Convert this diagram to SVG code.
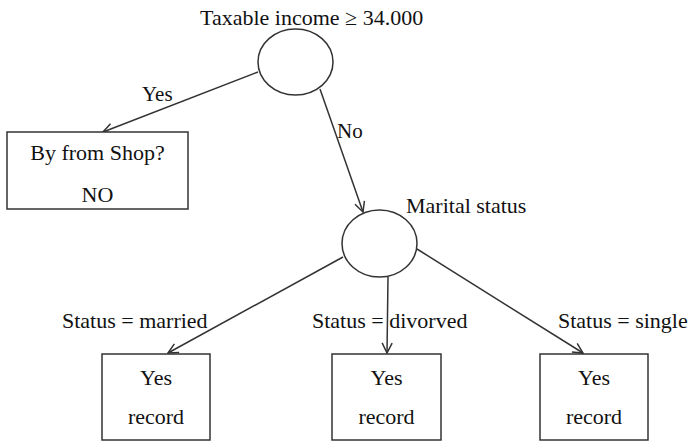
<svg xmlns="http://www.w3.org/2000/svg" width="688" height="442" viewBox="0 0 688 442" font-family="'Liberation Serif', 'DejaVu Serif', serif">
<style>
text{font-family:'Liberation Serif','DejaVu Serif',serif;font-size:22px;fill:#111}
.n{fill:#fff;stroke:#333;stroke-width:1.5}
.c line{stroke:#333;stroke-width:1.5;fill:none}
.m{text-anchor:middle}
</style>
<defs>
<marker id="a" viewBox="0 0 12 12" refX="11" refY="6" markerWidth="12" markerHeight="12" markerUnits="userSpaceOnUse" orient="auto">
<path d="M1,1 L11,6 L1,11" fill="none" stroke="#333" stroke-width="1.5"/>
</marker>
</defs>
<rect width="688" height="442" fill="#fff"/>
<g class="c" id="connectors">
<line x1="258" y1="72" x2="103" y2="132" marker-end="url(#a)"/>
<line x1="320" y1="89" x2="363" y2="212" marker-end="url(#a)"/>
<line x1="343" y1="257" x2="168" y2="353" marker-end="url(#a)"/>
<line x1="388" y1="277" x2="387" y2="353" marker-end="url(#a)"/>
<line x1="417" y1="249" x2="583" y2="353" marker-end="url(#a)"/>
<text x="142" y="101" style="font-size:21px">Yes</text>
<text x="337" y="138" style="font-size:21px">No</text>
<text x="62" y="328">Status = married</text>
<text x="312" y="328">Status = divorved</text>
<text x="558" y="328">Status = single</text>
</g>
<g id="root">
<ellipse class="n" cx="295.5" cy="62" rx="37.5" ry="33"/>
<text x="200" y="25">Taxable income ≥ 34.000</text>
</g>
<g id="shop">
<rect class="n" x="7" y="132" width="181" height="77"/>
<text class="m" x="97.5" y="160">By from Shop?</text>
<text class="m" x="97.5" y="202">NO</text>
</g>
<g id="marital">
<ellipse class="n" cx="379.5" cy="243.5" rx="37.5" ry="33.5"/>
<text x="406" y="213">Marital status</text>
</g>
<g id="married">
<rect class="n" x="102" y="354" width="108" height="86"/>
<text class="m" x="156" y="385">Yes</text>
<text class="m" x="156" y="424">record</text>
</g>
<g id="divorced">
<rect class="n" x="332" y="354" width="109" height="86"/>
<text class="m" x="386.5" y="385">Yes</text>
<text class="m" x="386.5" y="424">record</text>
</g>
<g id="single">
<rect class="n" x="540" y="354" width="108" height="86"/>
<text class="m" x="594" y="385">Yes</text>
<text class="m" x="594" y="424">record</text>
</g>
</svg>
